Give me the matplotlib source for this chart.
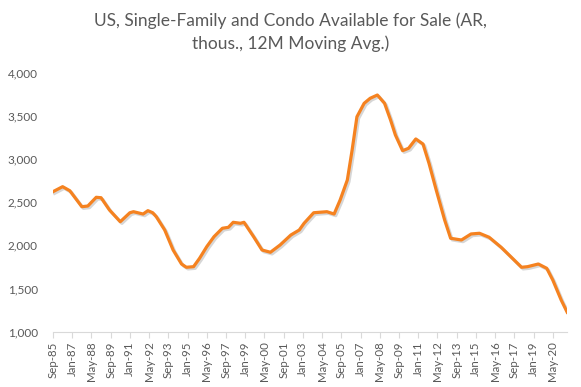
import matplotlib
matplotlib.use("Agg")
import matplotlib.pyplot as plt
import matplotlib.patheffects as pe

# months after Sep-1985 and inventory (thous.)
months = [0, 8, 14, 24, 29, 36, 40, 47, 56, 64, 67, 75, 79, 83, 86, 93, 100,
          107, 111, 117, 122, 128, 134, 141, 146, 150, 156, 159, 167, 174, 181,
          189, 198, 205, 209, 217, 228, 234, 239, 245, 249, 253, 259, 264, 270,
          276, 281, 285, 291, 296, 302, 308, 313, 319, 326, 331, 340, 348, 355,
          363, 373, 381, 390, 395, 404, 411, 416, 423, 428]
values = [2622, 2680, 2633, 2448, 2456, 2557, 2552, 2410, 2274, 2378, 2390,
          2363, 2402, 2378, 2332, 2178, 1946, 1784, 1746, 1753, 1850, 1985,
          2100, 2198, 2209, 2267, 2256, 2267, 2100, 1946, 1920, 2004, 2120,
          2178, 2256, 2378, 2390, 2363, 2525, 2757, 3105, 3490, 3646, 3704,
          3742, 3646, 3452, 3279, 3097, 3125, 3233, 3174, 2950, 2641, 2294,
          2082, 2062, 2132, 2140, 2094, 1978, 1869, 1746, 1753, 1784, 1734,
          1599, 1367, 1225]

tick_labels = ['Sep-85', 'Jan-87', 'May-88', 'Sep-89', 'Jan-91', 'May-92',
               'Sep-93', 'Jan-95', 'May-96', 'Sep-97', 'Jan-99', 'May-00',
               'Sep-01', 'Jan-03', 'May-04', 'Sep-05', 'Jan-07', 'May-08',
               'Sep-09', 'Jan-11', 'May-12', 'Sep-13', 'Jan-15', 'May-16',
               'Sep-17', 'Jan-19', 'May-20']
tick_pos = [16 * i for i in range(len(tick_labels))]

plt.rcParams['font.family'] = ['Lato', 'DejaVu Sans']
grey = '#595959'

fig = plt.figure(figsize=(5.81, 3.87), dpi=100)
ax = fig.add_axes([0.0912, 0.143, 0.885, 0.669])

ax.plot(months, values, color='#F58220', linewidth=2.3, solid_joinstyle='round',
        path_effects=[pe.SimpleLineShadow(offset=(1.2, -1.2), shadow_color='#8c8c8c', alpha=0.35),
                      pe.Normal()])

ax.set_xlim(0, months[-1])
ax.set_ylim(1000, 4000)
ax.set_yticks(range(1000, 4001, 500))
ax.set_yticklabels([f'{v:,}' for v in range(1000, 4001, 500)])
ax.set_xticks(tick_pos)
ax.set_xticklabels(tick_labels, rotation=90)

for s in ['top', 'right', 'left']:
    ax.spines[s].set_visible(False)
ax.spines['bottom'].set_color('#d9d9d9')
ax.tick_params(axis='y', length=0, pad=11, labelsize=8.5, labelcolor=grey)
ax.tick_params(axis='x', length=4, color='#d9d9d9', pad=3, labelsize=8.3, labelcolor=grey)

fig.suptitle('US, Single-Family and Condo Available for Sale (AR,\nthous., 12M Moving Avg.)',
             x=0.5, y=0.968, fontsize=12.5, color=grey, linespacing=1.45)

fig.savefig('out.png', dpi=100)
